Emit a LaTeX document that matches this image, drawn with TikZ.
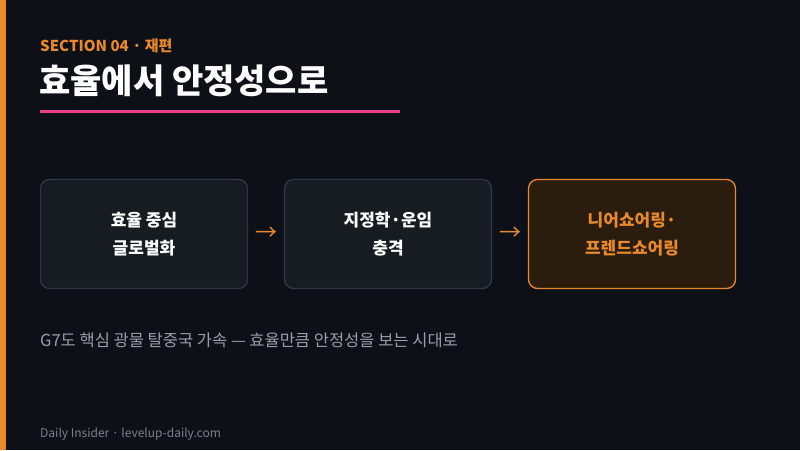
\documentclass[tikz,border=0pt]{standalone}
\usepackage{fontspec}
\setmainfont{Noto Sans CJK KR}
\usetikzlibrary{positioning,calc}
\definecolor{bgdark}{HTML}{0D1017}
\definecolor{boxfill}{HTML}{171B22}
\definecolor{boxline}{HTML}{33373F}
\definecolor{accent}{HTML}{E8892A}
\definecolor{hotfill}{HTML}{2B1D0E}
\definecolor{pinkline}{HTML}{E83E8C}
\definecolor{softgray}{HTML}{9A9EA6}
\definecolor{dimgray}{HTML}{7C8088}
\tikzset{
  stagebox/.style={draw=boxline,fill=boxfill,rounded corners=9pt,line width=1.3pt,
    minimum width=207pt,minimum height=109pt,align=center,text=white,
    font=\fontsize{17}{28}\selectfont\bfseries},
  hotbox/.style={stagebox,draw=accent,fill=hotfill,text=accent},
  flowarrow/.style={accent,font=\fontsize{22}{22}\selectfont}
}
\begin{document}
\begin{tikzpicture}[x=1pt,y=-1pt]
\fill[bgdark] (0,0) rectangle (800,450);
\fill[accent] (0,0) rectangle (6,450);
\node[anchor=west,text=accent,font=\fontsize{15}{15}\selectfont\bfseries,inner sep=0pt] (sec) at (40,46) {SECTION 04 · 재편};
\node[anchor=west,text=white,font=\fontsize{34}{34}\selectfont\bfseries,inner sep=0pt] (title) at (39,81) {효율에서 안정성으로};
\fill[pinkline] (40,109.5) rectangle (400,112.5);
\node[stagebox] (b1) at (144,234) {효율 중심\\글로벌화};
\node[stagebox] (b2) at (388,234) {지정학·운임\\충격};
\node[hotbox] (b3) at (632,234) {니어쇼어링·\\프렌드쇼어링};
\node[flowarrow] at ($(b1.east)!0.5!(b2.west)$) {→};
\node[flowarrow] at ($(b2.east)!0.5!(b3.west)$) {→};
\node[anchor=west,text=softgray,font=\fontsize{16.5}{16.5}\selectfont,inner sep=0pt] (cap) at (40,340) {G7도 핵심 광물 탈중국 가속 — 효율만큼 안정성을 보는 시대로};
\node[anchor=west,text=dimgray,font=\fontsize{12}{12}\selectfont,inner sep=0pt] (foot) at (40,434) {Daily Insider · levelup-daily.com};
\end{tikzpicture}
\end{document}
